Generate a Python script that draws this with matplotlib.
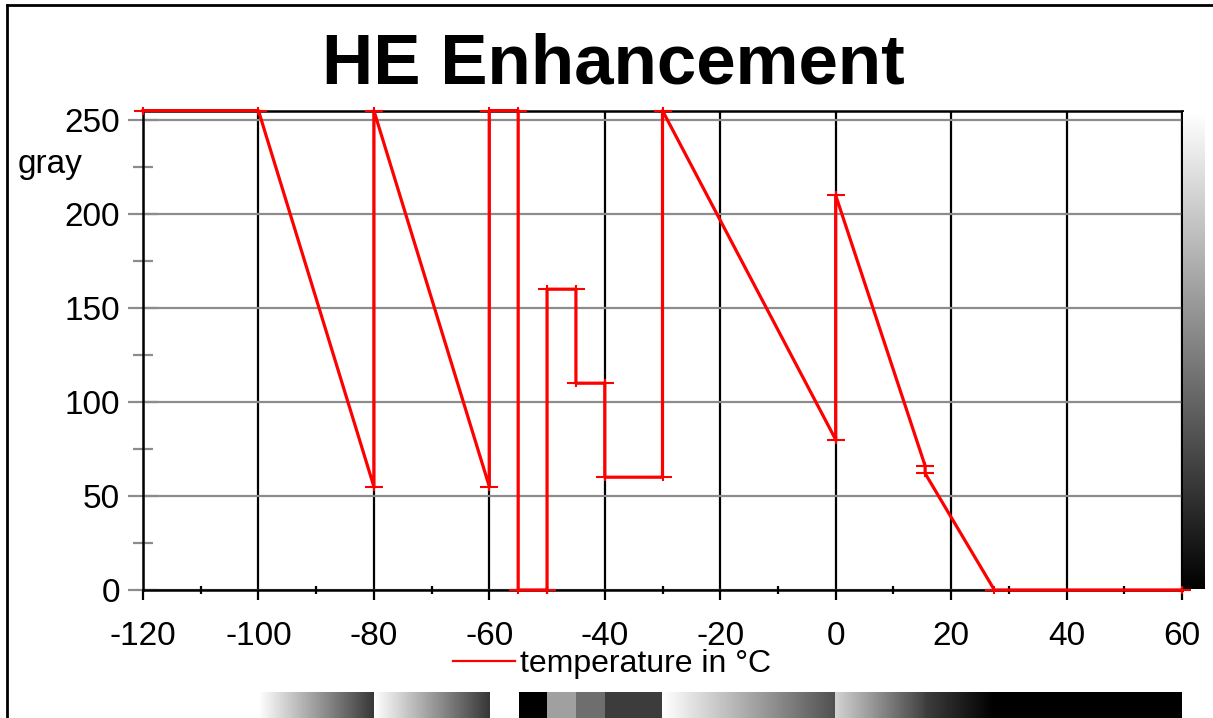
import numpy as np
import matplotlib
matplotlib.use('Agg')
import matplotlib.pyplot as plt
from matplotlib.path import Path
from matplotlib.lines import Line2D
from matplotlib.colors import Normalize
import matplotlib.colorbar as mcolorbar

# ---------------- data ----------------
title = "HE Enhancement"
temperature = [-120, -100, -80, -80, -60, -60, -55, -55, -50, -50, -45, -45,
               -40, -40, -30, -30, 0, 0, 15.5, 15.5, 27.5, 60]
gray = [255, 255, 55, 255, 55, 255, 255, 0, 0, 160, 160, 110,
        110, 60, 60, 255, 80, 210, 66, 62, 0, 0]
x_ticks = [-120, -100, -80, -60, -40, -20, 0, 20, 40, 60]
x_minor = [-110, -90, -70, -50, -30, -10, 10, 30, 50]
y_ticks = [0, 50, 100, 150, 200, 250]
y_minor = [25, 75, 125, 175, 225]
y_label = "gray"
legend_label = "temperature in °C"

# ---------------- figure ----------------
plt.rcParams['font.family'] = ['Liberation Sans', 'DejaVu Sans']
W, H = 1213, 718
fig = plt.figure(figsize=(W / 100, H / 100), dpi=100)


def fx(px):
    return px / W


def fy(py):
    return 1 - py / H


ax = fig.add_axes([fx(143), fy(590), fx(1182) - fx(143), fy(110.6) - fy(590)])
ax.set_xlim(-120, 60)
ax.set_ylim(0, 255)

# grid
for xt in x_ticks:
    ax.axvline(xt, color='black', lw=1.6, zorder=1)
for yt in y_ticks:
    ax.axhline(yt, color='#8c8c8c', lw=1.6, zorder=1)

# custom "+" cap marker
cap = Path([(-1, 0), (1, 0), (0, -0.45), (0, 0.45)],
           [Path.MOVETO, Path.LINETO, Path.MOVETO, Path.LINETO])
ax.plot(temperature, gray, color='#ff0000', lw=2.3, marker=cap,
        markersize=13, markeredgewidth=1.5, markeredgecolor='#ff0000',
        zorder=3, clip_on=False)

ax.set_xticks(x_ticks)
ax.set_xticks(x_minor, minor=True)
ax.set_yticks(y_ticks)
ax.set_yticks(y_minor, minor=True)
ax.set_xticklabels([str(v) for v in x_ticks])
ax.set_yticklabels([str(v) for v in y_ticks])
ax.tick_params(axis='x', which='major', direction='out', length=7.2, width=1.6,
               color='black', labelsize=24, pad=15)
ax.tick_params(axis='x', which='minor', direction='inout', length=6, width=1.6,
               color='black')
ax.tick_params(axis='y', which='major', direction='inout', length=21, width=1.6,
               color='#8c8c8c', labelsize=24, pad=6)
ax.tick_params(axis='y', which='minor', direction='inout', length=13.7, width=1.6,
               color='#8c8c8c')
for s in ax.spines.values():
    s.set_color('black')
    s.set_linewidth(1.8)

# y label "gray"
fig.text(fx(18), fy(173), y_label, fontsize=24, ha='left', va='baseline')

# title
fig.text(fx(613), fy(84), title, ha='center', va='baseline', fontsize=51,
         fontweight='bold')

# legend
handle = Line2D([], [], color='#ff0000', lw=1.6)
fig.legend(handles=[handle], labels=[legend_label], loc='center left',
           bbox_to_anchor=(fx(453), fy(664)), frameon=False, fontsize=23,
           handlelength=1.94, handletextpad=0.16, borderpad=0, borderaxespad=0)

# right vertical gray scale bar
cax_r = fig.add_axes([fx(1183), fy(589), fx(1205) - fx(1183), fy(112) - fy(589)])
cb = mcolorbar.ColorbarBase(cax_r, cmap='gray', norm=Normalize(0, 255),
                            orientation='vertical')
cb.outline.set_visible(False)
cax_r.set_yticks([])

# bottom strip: gray value mapped along temperature
cax_b = fig.add_axes([fx(143), 0, fx(1182) - fx(143), fy(692)])
xs = np.linspace(-120, 60, 1400)
vals = np.full_like(xs, np.nan)
for i in range(len(temperature) - 1):
    x0, x1 = temperature[i], temperature[i + 1]
    if x1 > x0:
        m = (xs >= x0) & (xs <= x1)
        vals[m] = gray[i] + (gray[i + 1] - gray[i]) * (xs[m] - x0) / (x1 - x0)
cax_b.imshow(vals[None, :], cmap='gray', vmin=0, vmax=255,
             extent=[-120, 60, 0, 1], aspect='auto', interpolation='nearest')
cax_b.set_xlim(-120, 60)
cax_b.axis('off')

# outer frame (left and top)
fig.add_artist(Line2D([fx(7), fx(7)], [0, fy(5)], color='black', lw=2,
                      transform=fig.transFigure))
fig.add_artist(Line2D([fx(7), 1], [fy(5), fy(5)], color='black', lw=2,
                      transform=fig.transFigure))

fig.savefig('out.png', dpi=100)
